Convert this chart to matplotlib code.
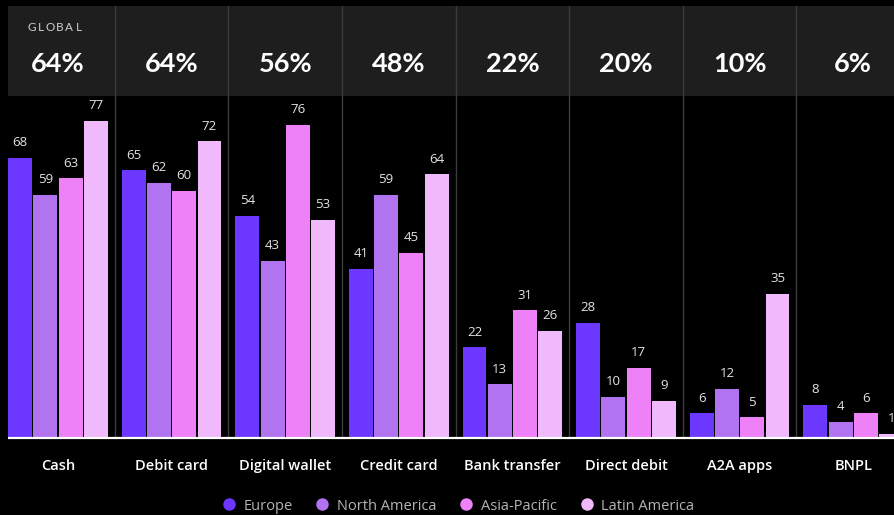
import numpy as np
import matplotlib
matplotlib.use("Agg")
import matplotlib.pyplot as plt
from matplotlib.lines import Line2D

# payment method usage by region (%)
methods = ["Cash", "Debit card", "Digital wallet", "Credit card",
           "Bank transfer", "Direct debit", "A2A apps", "BNPL"]
global_share = [64, 64, 56, 48, 22, 20, 10, 6]
regions = ["Europe", "North America", "Asia-Pacific", "Latin America"]
europe = [68, 65, 54, 41, 22, 28, 6, 8]
north_america = [59, 62, 43, 59, 13, 10, 12, 4]
asia_pacific = [63, 60, 76, 45, 31, 17, 5, 6]
latin_america = [77, 72, 53, 64, 26, 9, 35, 1]

series = [europe, north_america, asia_pacific, latin_america]
colors = ["#6c38ff", "#b173ef", "#ee80f8", "#efb9fb"]

W, H = 895, 515
PX_PER_GROUP = 113.6
PX_PER_UNIT = 4.12
BASE_PX = 438          # baseline row in pixels from top
FIRST_CENTER_PX = 58   # centre of first group

fig = plt.figure(figsize=(W / 100, H / 100), dpi=100, facecolor="black")

# axes in pixel layout: left at 8px, top at 6px, bottom just under the baseline
left_px, top_px, bottom_px = 8, 6, 441
ax = fig.add_axes([left_px / W, 1 - bottom_px / H,
                   (W - left_px) / W, (bottom_px - top_px) / H])
ax.set_facecolor("black")
ax.set_xlim((left_px - FIRST_CENTER_PX) / PX_PER_GROUP,
            (W - FIRST_CENTER_PX) / PX_PER_GROUP)
ax.set_ylim((BASE_PX - bottom_px) / PX_PER_UNIT, (BASE_PX - top_px) / PX_PER_UNIT)
ax.axis("off")

def ypix(p):
    return (BASE_PX - p) / PX_PER_UNIT

def xpix(p):
    return (p - FIRST_CENTER_PX) / PX_PER_GROUP

ymax = ypix(top_px)
band_bottom = ypix(96)

# dark header band with the global share
ax.axhspan(band_bottom, ymax, color="#1e1e1e", zorder=0, lw=0)

x = np.arange(len(methods))
slot = 0.2225
bw = 0.211
for k, (vals, c) in enumerate(zip(series, colors)):
    xs = x + (k - 1.5) * slot
    ax.bar(xs, vals, width=bw, color=c, zorder=2, lw=0)
    for xi, v in zip(xs, vals):
        ax.text(xi, v + 2.1, str(v), ha="center", va="bottom", fontsize=9.5,
                color="#e4e4e4", family="Open Sans", zorder=3, clip_on=False)

# separators between groups
for i in range(len(methods)):
    ax.plot([i + 0.5, i + 0.5], [0, ymax], color="#3c3c3c", lw=1, zorder=1)

ax.axhline(0, color="white", lw=1.6, zorder=4)

for i, (m, g) in enumerate(zip(methods, global_share)):
    ax.text(i, ypix(64.5), f"{g}%", ha="center", va="center", fontsize=19.5,
            fontweight="bold", color="white", family="Lato", zorder=3)
    ax.text(i, ypix(466), m, ha="center", va="center", fontsize=10.5,
            color="white", family="Open Sans", fontweight="semibold",
            clip_on=False)

# letter-spaced "GLOBAL" label
for j, ch in enumerate("GLOBAL"):
    ax.text(xpix(32 + j * 9.3), ypix(27.5), ch,
            ha="center", va="center", fontsize=8.5, color="#cfcfcf", family="Lato")

handles = [Line2D([], [], marker="o", ls="none", markersize=9,
                  markerfacecolor=c, markeredgewidth=0) for c in colors]
fig.legend(handles, regions, loc="center", bbox_to_anchor=(458 / W, 1 - 506 / H),
           ncol=4, frameon=False, handlelength=1.0, handletextpad=0.5,
           columnspacing=1.55, prop={"family": "Open Sans", "size": 10.5},
           labelcolor="#b4b4b4")

fig.savefig("out.png", dpi=100, facecolor="black")
